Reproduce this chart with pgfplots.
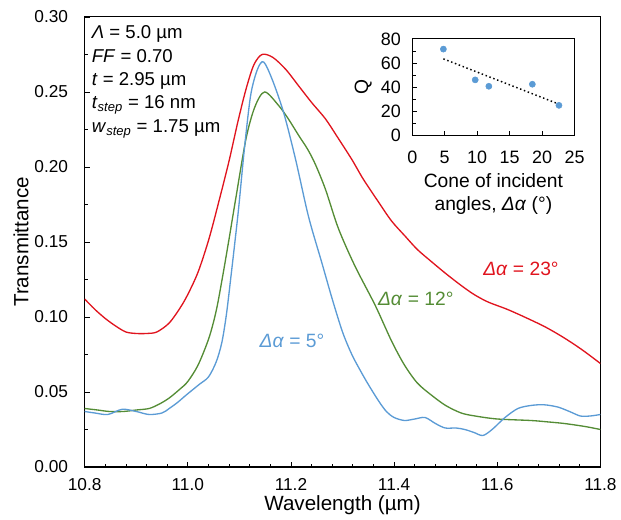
\documentclass[border=0pt]{standalone}
\usepackage{fontspec}
\setmainfont{Liberation Sans}
\usepackage{pgfplots}
\pgfplotsset{compat=1.18}
\usetikzlibrary{calc}
\definecolor{cred}{RGB}{224,20,30}
\definecolor{cgreen}{RGB}{84,140,53}
\definecolor{cblue}{RGB}{91,155,213}
\begin{document}
\begin{tikzpicture}
\begin{axis}[
  name=main,
  scale only axis,
  width=388.5pt, height=339pt,
  xmin=10.8, xmax=11.8, ymin=0, ymax=0.30,
  xtick={10.8,11.0,...,11.8}, minor x tick num=4,
  ytick={0,0.05,...,0.30}, minor y tick num=1,
  xtick pos=bottom, ytick pos=left,
  tick align=inside,
  major tick length=4pt, minor tick length=2.5pt,
  every tick/.style={black, line width=0.6pt},
  axis line style={line width=0.8pt},
  /pgf/number format/assume math mode=true,
  xticklabel style={/pgf/number format/fixed, /pgf/number format/fixed zerofill, /pgf/number format/precision=1, yshift=-5pt},
  yticklabel style={/pgf/number format/fixed, /pgf/number format/fixed zerofill, /pgf/number format/precision=2, xshift=-9pt},
  tick label style={font=\fontsize{13}{15}\selectfont},
  xlabel={Wavelength (µm)}, ylabel={Transmittance},
  every axis x label/.style={at={(rel axis cs:0.5,0)}, yshift=-29pt, anchor=center, font=\fontsize{15.5}{18}\selectfont},
  every axis y label/.style={at={(rel axis cs:0,0.5)}, xshift=-48pt, rotate=90, anchor=center, font=\fontsize{15.5}{18}\selectfont},
  clip=true,
]
\coordinate (bl) at (rel axis cs:0,0);
\addplot[cred, line width=1pt, smooth, tension=0.5] coordinates {
(10.80,0.112) (10.82,0.105) (10.84,0.099) (10.86,0.094) (10.88,0.090) (10.90,0.089)
(10.92,0.089) (10.94,0.090) (10.964,0.096) (10.985,0.106) (11.00,0.115) (11.02,0.130)
(11.041,0.152) (11.061,0.178) (11.08,0.204) (11.097,0.230) (11.113,0.252) (11.128,0.268)
(11.144,0.275) (11.165,0.273) (11.19,0.265) (11.215,0.254) (11.24,0.243) (11.267,0.232) (11.29,0.220)
(11.318,0.205) (11.34,0.192) (11.369,0.177) (11.395,0.164) (11.421,0.154) (11.445,0.145)
(11.472,0.137) (11.50,0.129) (11.53,0.121) (11.555,0.115) (11.582,0.110) (11.62,0.105)
(11.659,0.099) (11.695,0.093) (11.73,0.086) (11.765,0.078) (11.80,0.069)
};
\addplot[cgreen, line width=1pt, smooth, tension=0.5] coordinates {
(10.80,0.039) (10.825,0.038) (10.848,0.037) (10.875,0.037) (10.90,0.038) (10.925,0.039)
(10.945,0.042) (10.964,0.046) (10.985,0.052) (11.00,0.057) (11.02,0.068) (11.041,0.086)
(11.055,0.104) (11.067,0.126) (11.08,0.152) (11.093,0.179) (11.113,0.219) (11.13,0.240)
(11.149,0.250) (11.176,0.241) (11.195,0.232) (11.215,0.221) (11.232,0.212) (11.247,0.202)
(11.267,0.185) (11.292,0.159) (11.324,0.134) (11.363,0.108) (11.395,0.084) (11.42,0.068)
(11.445,0.056) (11.472,0.048) (11.50,0.041) (11.53,0.036) (11.557,0.034) (11.60,0.032)
(11.665,0.031) (11.70,0.030) (11.73,0.029) (11.77,0.027) (11.80,0.025)
};
\addplot[cblue, line width=1pt, smooth, tension=0.5] coordinates {
(10.80,0.037) (10.82,0.036) (10.845,0.035) (10.873,0.0385) (10.90,0.037) (10.925,0.035)
(10.95,0.036) (10.964,0.039) (10.98,0.043) (10.997,0.048) (11.022,0.055) (11.04,0.060)
(11.055,0.070) (11.066,0.083) (11.075,0.102) (11.084,0.128) (11.092,0.152) (11.099,0.174)
(11.11,0.213) (11.122,0.248) (11.135,0.265) (11.147,0.270) (11.164,0.258) (11.186,0.236)
(11.209,0.205) (11.234,0.167) (11.26,0.136) (11.28,0.112) (11.30,0.090) (11.318,0.075)
(11.335,0.064) (11.35,0.055) (11.37,0.044) (11.385,0.037) (11.40,0.033)
(11.42,0.031) (11.44,0.032) (11.46,0.033) (11.48,0.029) (11.499,0.026) (11.52,0.026)
(11.537,0.025) (11.555,0.023) (11.572,0.021) (11.59,0.025) (11.615,0.033) (11.64,0.039)
(11.665,0.041) (11.69,0.0415) (11.717,0.040) (11.74,0.037) (11.761,0.034) (11.78,0.034)
(11.80,0.035)
};
\node[cred, font=\fontsize{14.5}{17}\selectfont, anchor=center] at (axis cs:11.646,0.132) {\textit{Δα} = 23°};
\node[cgreen, font=\fontsize{14.5}{17}\selectfont, anchor=center] at (axis cs:11.442,0.112) {\textit{Δα} = 12°};
\node[cblue, font=\fontsize{14.5}{17}\selectfont, anchor=center] at (axis cs:11.202,0.084) {\textit{Δα} = 5°};
\begin{scope}[every node/.style={anchor=base west, inner sep=0pt, font=\fontsize{14}{16}\selectfont}]
\node at ([xshift=5.25pt,yshift=-16.5pt]rel axis cs:0,1) {\textit{Λ} = 5.0 µm};
\node at ([xshift=5.25pt,yshift=-34.5pt]rel axis cs:0,1) {\textit{FF} = 0.70};
\node at ([xshift=5.25pt,yshift=-51.75pt]rel axis cs:0,1) {\textit{t} = 2.95 µm};
\node at ([xshift=5.25pt,yshift=-69pt]rel axis cs:0,1) {\textit{t}\textsubscript{\textit{step}} = 16 nm};
\node at ([xshift=5.25pt,yshift=-87pt]rel axis cs:0,1) {\textit{w}\textsubscript{\textit{step}} = 1.75 µm};
\end{scope}
\end{axis}
\begin{axis}[
  at={($(bl)+(246.75pt,249.75pt)$)}, anchor=south west,
  scale only axis,
  width=122.25pt, height=72.75pt,
  xmin=0, xmax=25, ymin=0, ymax=80,
  xtick={0,5,...,25}, ytick={0,20,...,80}, minor y tick num=1,
  xtick pos=bottom, ytick pos=left,
  tick align=inside,
  major tick length=3.5pt, minor tick length=2.5pt,
  every tick/.style={black, line width=0.6pt},
  axis line style={line width=0.8pt},
  axis background/.style={fill=white},
  /pgf/number format/assume math mode=true,
  tick label style={font=\fontsize{13.5}{15}\selectfont},
  yticklabel style={xshift=-5pt},
  xticklabel style={yshift=-8pt},
  xlabel={Cone of incident\\angles, \textit{Δα} (°)},
  ylabel={Q},
  every axis x label/.style={at={(rel axis cs:0.5,0)}, yshift=-44pt, anchor=center, align=center, font=\fontsize{14.5}{17}\selectfont},
  every axis y label/.style={at={(rel axis cs:0,0.5)}, xshift=-37pt, rotate=90, anchor=center, font=\fontsize{14.5}{17}\selectfont},
  clip=false,
]
\addplot[black, line width=1.1pt, dotted] coordinates {(4.8,63.4) (22.6,25.9)};
\addplot[only marks, mark=*, mark size=2.3pt, cblue, mark options={draw=cblue, fill=cblue}] coordinates {
(4.8,71.5) (9.7,46.0) (11.8,40.7) (18.5,42.4) (22.6,24.9)
};
\end{axis}
\path (bl) ++(-63.75pt,-39pt) rectangle ++(465.75pt,390.75pt);
\end{tikzpicture}
\end{document}
